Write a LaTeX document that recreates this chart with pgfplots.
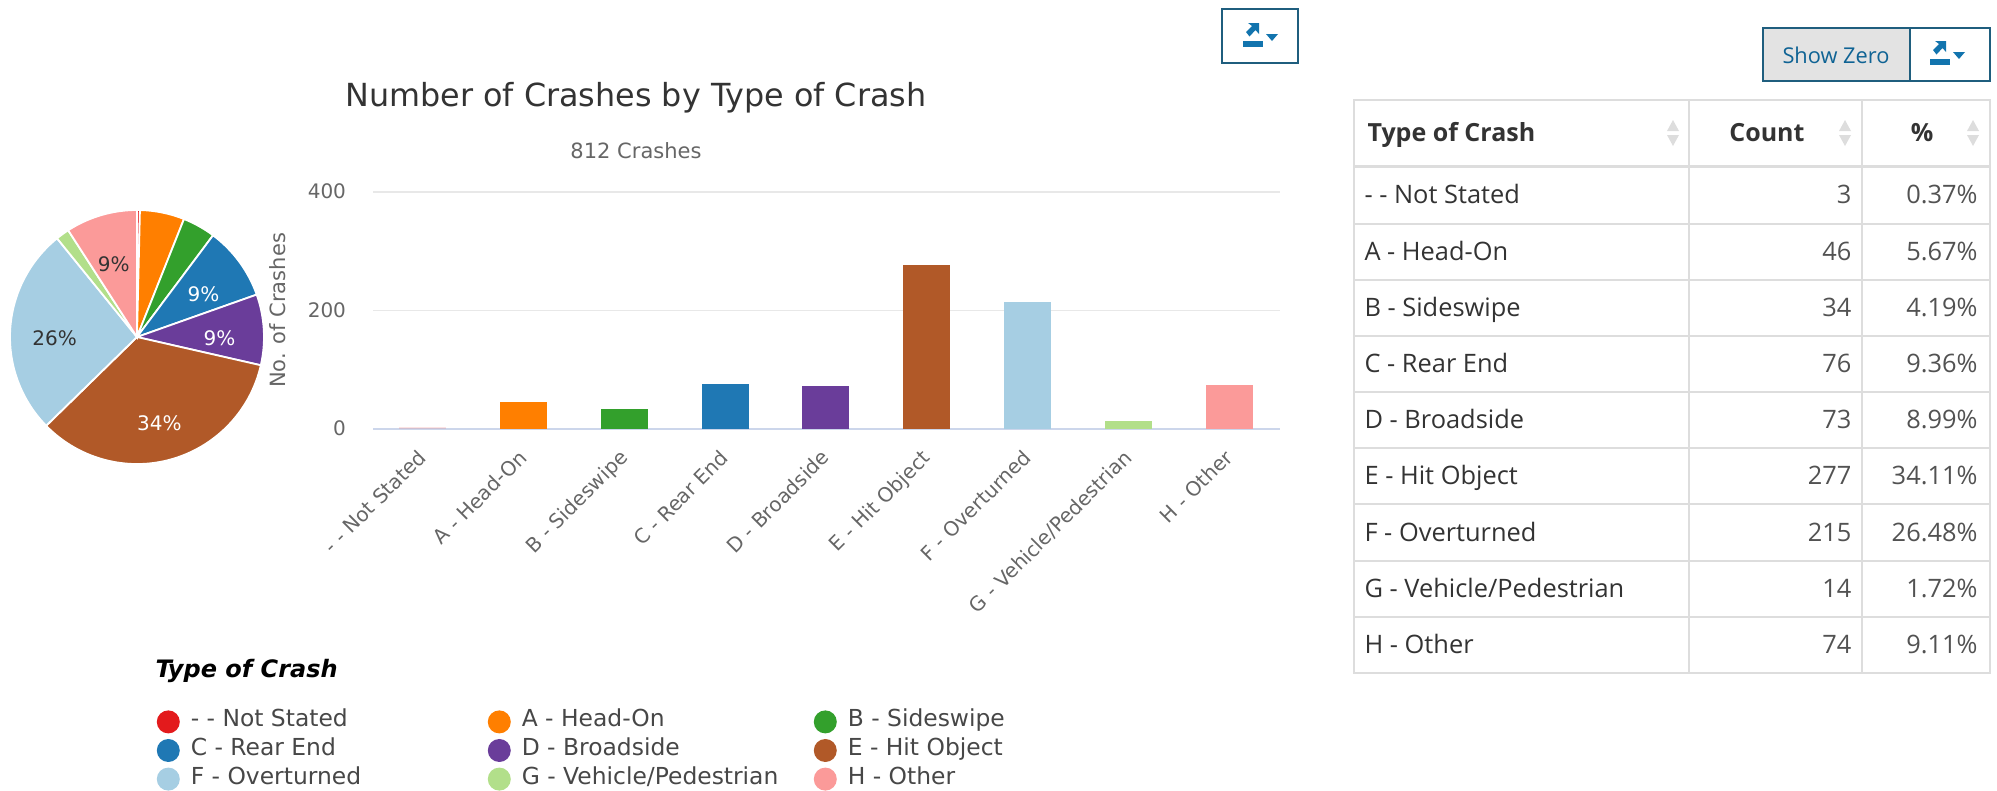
\documentclass[border=0pt]{standalone}
\usepackage{pgfplots}
\pgfplotsset{compat=1.18}
\usepackage{fontspec}
\setmainfont{DejaVu Sans}
\newfontfamily\tablefont{Open Sans}
\definecolor{cZ}{HTML}{E31A1C}
\definecolor{cA}{HTML}{FF7F00}
\definecolor{cB}{HTML}{33A02C}
\definecolor{cC}{HTML}{1F78B4}
\definecolor{cD}{HTML}{6A3D9A}
\definecolor{cE}{HTML}{B15928}
\definecolor{cF}{HTML}{A6CEE3}
\definecolor{cG}{HTML}{B2DF8A}
\definecolor{cH}{HTML}{FB9A99}
\definecolor{gridc}{HTML}{E8E8E8}
\definecolor{axisc}{HTML}{CCD6EB}
\definecolor{tickc}{HTML}{666666}
\definecolor{titlec}{HTML}{333333}
\definecolor{rule}{HTML}{DDDDDD}
\definecolor{btn}{HTML}{1F5E7E}
\definecolor{icon}{HTML}{1274AE}

% pie wedge: clockwise from twelve o'clock, count out of 812
\def\cum{0}
\newcommand{\piewedge}[2]{%
  \pgfmathsetmacro\angA{90-\cum/812*360}%
  \pgfmathsetmacro\angB{90-(\cum+#1)/812*360}%
  \pgfmathsetmacro\xa{cos(\angA)}%
  \pgfmathsetmacro\ya{sin(\angA)}%
  \edef\tmp{\noexpand\fill[#2,draw=white,line width=1.8pt] (axis cs:0,0) -- (axis cs:\xa,\ya) arc[start angle=\angA,end angle=\angB,radius=127pt] -- cycle;}\tmp
  \pgfmathsetmacro\newcum{\cum+#1}%
  \xdef\cum{\newcum}%
}
% percent label at the middle of a wedge whose share begins after #1 crashes
\newcommand{\pielabel}[3]{%
  \pgfmathsetmacro\angM{90-(#1+#2/2)/812*360}%
  \pgfmathsetmacro\xm{0.65*cos(\angM)}%
  \pgfmathsetmacro\ym{0.65*sin(\angM)-0.05}%
  \pgfmathtruncatemacro\pct{round(#2/812*100)}%
  \edef\tmp{\noexpand\node[text=#3,font=\noexpand\fontsize{20}{24}\noexpand\selectfont] at (axis cs:\xm,\ym) {\pct\noexpand\%};}\tmp
}
\pgfplotsset{
  dot/.style={legend image code/.code={\fill[#1] (0pt,0pt) circle (11.5pt);}},
}
\newcommand{\exporticon}[2]{%
  \begin{scope}[shift={(#1,#2)}]
    \fill[icon] (0,0) rectangle (20,6);
    \fill[icon] (3,-9) -- (9,-15) -- (5,-18) -- (16,-18) -- (16,-7) -- (12.5,-11) -- (6.5,-4.5) -- cycle;
    \fill[icon] (23,-7) -- (35,-7) -- (29,0) -- cycle;
  \end{scope}}
\newcommand{\sortarrows}[2]{%
  \fill[rule] (#1-6,#2-2) -- (#1+6,#2-2) -- (#1,#2-13) -- cycle;
  \fill[rule] (#1-6,#2+2) -- (#1+6,#2+2) -- (#1,#2+13) -- cycle;}
\newcommand{\datarow}[4]{%
  \node[anchor=mid west,text=titlec] at (1361,#1) {#2};
  \node[anchor=mid east,text=titlec!85!white] at (1855,#1) {#3};
  \node[anchor=mid east,text=titlec!85!white] at (1981,#1) {#4};}
\newcommand{\legtext}[2]{\makebox[#1][l]{\hspace*{11pt}#2}}

\begin{document}
\begin{tikzpicture}[x=1pt,y=-1pt]
\useasboundingbox (0,0) rectangle (1997,790);

% share of crashes
\begin{axis}[at={(10pt,-464pt)},anchor=south west,scale only axis,width=254pt,height=254pt,
  xmin=-1,xmax=1,ymin=-1,ymax=1,hide axis,clip=false]
  \addplot[draw=none,forget plot] coordinates {(0,0)};
  \piewedge{3}{cZ}
  \piewedge{46}{cA}
  \piewedge{34}{cB}
  \piewedge{76}{cC}
  \piewedge{73}{cD}
  \piewedge{277}{cE}
  \piewedge{215}{cF}
  \piewedge{14}{cG}
  \piewedge{74}{cH}
  \pielabel{83}{76}{white}
  \pielabel{159}{73}{white}
  \pielabel{232}{277}{white}
  \pielabel{509}{215}{titlec}
  \pielabel{738}{74}{titlec}
\end{axis}

% crashes per type
\begin{axis}[at={(373pt,-429pt)},anchor=south west,scale only axis,width=907pt,height=237pt,
  ybar,bar width=47pt,bar shift=0pt,
  xmin=-0.493,xmax=8.505,ymin=0,ymax=400,clip=false,
  xtick={0,...,8},ytick={0,200,400},
  xticklabels={- - Not Stated,A - Head-On,B - Sideswipe,C - Rear End,D - Broadside,E - Hit Object,F - Overturned,G - Vehicle/Pedestrian,H - Other},
  major tick length=0pt,
  axis x line=bottom,axis y line=left,
  axis line style={-},
  x axis line style={draw=axisc,line width=1.6pt},
  y axis line style={draw=none},
  ymajorgrids,grid style={gridc,line width=1.6pt},
  /pgf/number format/assume math mode=true,
  tick label style={font=\fontsize{20}{24}\selectfont,text=tickc},
  yticklabel style={anchor=mid east,xshift=-23.5pt,yshift=-4pt},
  xticklabel style={rotate=45,anchor=north east,xshift=-14.5pt,yshift=-6pt},
  ylabel={No. of Crashes},
  ylabel style={font=\fontsize{21}{26}\selectfont,text=tickc,anchor=center,at={(axis description cs:-0.1047,0.5)}},
  legend columns=3,
  legend cell align=left,
  legend style={draw=none,fill=none,at={(-0.2419,-1.178)},anchor=north west,
    font=\fontsize{23.4}{27}\selectfont,text=tickc!70!black,
    nodes={inner sep=0pt,text height=15pt,text depth=5pt},
    row sep=5.6pt},
]
  % the Not Stated bar is only a sliver on the baseline
  \addplot[legend image code/.code={\fill[cZ,fill opacity=1] (0pt,0pt) circle (11.5pt);},fill=cZ,fill opacity=0.12,draw=none] coordinates {(0,3)};
  \addlegendentry{\legtext{308pt}{- - Not Stated}}
  \addplot[dot,fill=cA,draw=none] coordinates {(1,46)};
  \addlegendentry{\legtext{303pt}{A - Head-On}}
  \addplot[dot,fill=cB,draw=none] coordinates {(2,34)};
  \addlegendentry{\legtext{150pt}{B - Sideswipe}}
  \addplot[dot,fill=cC,draw=none] coordinates {(3,76)};
  \addlegendentry{\legtext{308pt}{C - Rear End}}
  \addplot[dot,fill=cD,draw=none] coordinates {(4,73)};
  \addlegendentry{\legtext{303pt}{D - Broadside}}
  \addplot[dot,fill=cE,draw=none] coordinates {(5,277)};
  \addlegendentry{\legtext{150pt}{E - Hit Object}}
  \addplot[dot,fill=cF,draw=none] coordinates {(6,215)};
  \addlegendentry{\legtext{308pt}{F - Overturned}}
  \addplot[dot,fill=cG,draw=none] coordinates {(7,14)};
  \addlegendentry{\legtext{303pt}{G - Vehicle/Pedestrian}}
  \addplot[dot,fill=cH,draw=none] coordinates {(8,74)};
  \addlegendentry{\legtext{150pt}{H - Other}}
\end{axis}

\node[text=titlec,font=\fontsize{31.8}{38}\selectfont] at (636,98) {Number of Crashes by Type of Crash};
\node[text=tickc,font=\fontsize{21}{25}\selectfont] at (636,151) {812 Crashes};
\node[anchor=mid west,text=black,font=\fontsize{24}{28}\selectfont\bfseries\itshape] at (152,675) {Type of Crash};

% toolbar buttons
\draw[btn,line width=1.2pt,fill=white] (1222,9) rectangle (1298,63);
\exporticon{1243}{41}
\draw[btn,line width=1.2pt,fill=white] (1910,28) rectangle (1990,81);
\draw[btn,line width=1.2pt,fill=gray!22] (1763,28) rectangle (1910,81);
\node[text=icon!85!black,font=\tablefont\fontsize{21.8}{26}\selectfont] at (1836,55) {Show Zero};
\exporticon{1930}{59}

% counts table
\begin{scope}[font=\tablefont\fontsize{25.4}{30}\selectfont]
  \draw[rule,line width=1.2pt] (1354,100) rectangle (1990,673);
  \draw[rule,line width=1.2pt] (1689,100) -- (1689,673) (1862,100) -- (1862,673);
  \draw[rule,line width=3pt] (1354,166) -- (1990,166);
  \foreach \y in {224,336,392,448,561,617} \draw[rule,line width=1.2pt] (1354,\y) -- (1990,\y);
  \foreach \y in {280,504} \draw[rule,line width=2.2pt] (1354,\y) -- (1990,\y);
  \begin{scope}[every node/.append style={yshift=-6pt}]
  \node[anchor=mid west,text=titlec,font=\tablefont\bfseries\fontsize{25}{30}\selectfont] at (1364,133) {Type of Crash};
  \node[anchor=mid east,text=titlec,font=\tablefont\bfseries\fontsize{25}{30}\selectfont] at (1808,133) {Count};
  \node[anchor=mid east,text=titlec,font=\tablefont\bfseries\fontsize{25}{30}\selectfont] at (1937,133) {\%};
  \datarow{195}{- - Not Stated}{3}{0.37\%}
  \datarow{252}{A - Head-On}{46}{5.67\%}
  \datarow{308}{B - Sideswipe}{34}{4.19\%}
  \datarow{364}{C - Rear End}{76}{9.36\%}
  \datarow{420}{D - Broadside}{73}{8.99\%}
  \datarow{476}{E - Hit Object}{277}{34.11\%}
  \datarow{533}{F - Overturned}{215}{26.48\%}
  \datarow{589}{G - Vehicle/Pedestrian}{14}{1.72\%}
  \datarow{645}{H - Other}{74}{9.11\%}
  \end{scope}
  \sortarrows{1673}{133}
  \sortarrows{1845}{133}
  \sortarrows{1973}{133}
\end{scope}
\end{tikzpicture}
\end{document}
